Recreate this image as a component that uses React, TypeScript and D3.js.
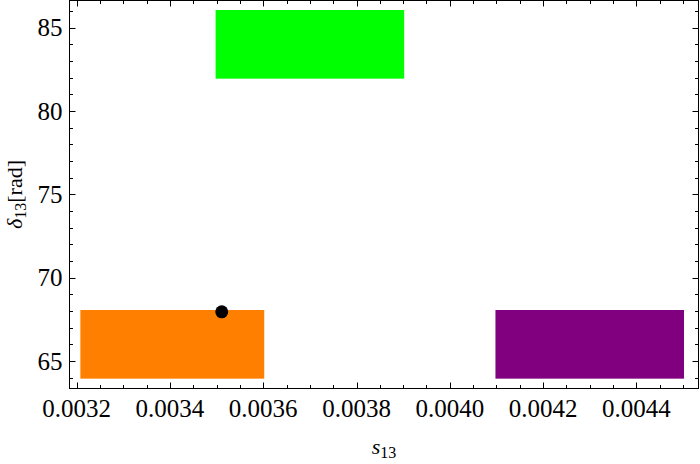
import React from "react";
import * as d3 from "d3";

// Regions (s13 range × δ13 range)
const regionColors = ["#FF8000", "#00FF00", "#800080"];
const sMin = [0.00321, 0.0035, 0.0041];
const sMax = [0.0036, 0.0039, 0.0045];
const dMin = [64.0, 82.0, 64.0];
const dMax = [68.0, 86.0, 68.0];

// Best-fit point
const pointS = [0.003511];
const pointD = [67.95];

// Ticks
const xMajorTicks = [0.0032, 0.0034, 0.0036, 0.0038, 0.004, 0.0042, 0.0044];
const xTickLabels = ["0.0032", "0.0034", "0.0036", "0.0038", "0.0040", "0.0042", "0.0044"];
const yMajorTicks = [65, 70, 75, 80, 85];
const yTickLabels = ["65", "70", "75", "80", "85"];

const W = 700;
const H = 464;
const left = 69.5;
const right = 698.5;
const top = 0.5;
const bottom = 388.5;

export default function App() {
  const x = d3.scaleLinear().domain([0.0031846, 0.0045332]).range([left, right]);
  const y = d3.scaleLinear().domain([63.35, 86.63]).range([bottom, top]);

  const xMinor: number[] = [];
  for (let i = 0; i <= 40; i++) {
    const v = 0.00315 + i * 0.00005;
    const px = x(v);
    if (px > left + 0.5 && px < right - 0.5) xMinor.push(v);
  }
  const yMinor: number[] = [];
  for (let v = 63; v <= 87; v++) {
    const py = y(v);
    if (py > top + 0.5 && py < bottom - 0.5) yMinor.push(v);
  }
  const isXMajor = (v: number) => xMajorTicks.some((t) => Math.abs(t - v) < 1e-8);
  const isYMajor = (v: number) => yMajorTicks.includes(v);

  const font = "'Liberation Serif', 'Times New Roman', serif";
  const pad = 1;

  return (
    <svg width={W} height={H} style={{ position: "absolute", left: 0, top: 0, background: "#fff" }}>
      {sMin.map((_, i) => (
        <rect
          key={i}
          x={x(sMin[i]) - pad}
          y={y(dMax[i]) - pad}
          width={x(sMax[i]) - x(sMin[i]) + 2 * pad}
          height={y(dMin[i]) - y(dMax[i]) + 2 * pad}
          fill={regionColors[i]}
        />
      ))}
      {pointS.map((s, i) => (
        <circle key={i} cx={x(s)} cy={y(pointD[i])} r={6.5} fill="#000" />
      ))}

      <rect x={left} y={top} width={right - left} height={bottom - top} fill="none" stroke="#000" strokeWidth={1} />

      {xMinor.map((v, i) => {
        const len = isXMajor(v) ? 6 : 3.5;
        const px = Math.round(x(v)) + 0.5;
        return (
          <g key={"xt" + i}>
            <line x1={px} x2={px} y1={bottom} y2={bottom - len} stroke="#000" />
            <line x1={px} x2={px} y1={top} y2={top + len} stroke="#000" />
          </g>
        );
      })}
      {yMinor.map((v, i) => {
        const len = isYMajor(v) ? 6 : 3.5;
        const py = Math.round(y(v)) + 0.5;
        return (
          <g key={"yt" + i}>
            <line x1={left} x2={left + len} y1={py} y2={py} stroke="#000" />
            <line x1={right} x2={right - len} y1={py} y2={py} stroke="#000" />
          </g>
        );
      })}

      {xMajorTicks.map((v, i) => (
        <text key={"xl" + i} x={x(v)} y={bottom + 28} textAnchor="middle" fontFamily={font} fontSize={25} fill="#000">
          {xTickLabels[i]}
        </text>
      ))}
      {yMajorTicks.map((v, i) => (
        <text key={"yl" + i} x={left - 7} y={y(v)} dy="0.34em" textAnchor="end" fontFamily={font} fontSize={25} fill="#000">
          {yTickLabels[i]}
        </text>
      ))}

      <text x={(left + right) / 2} y={454} textAnchor="middle" fontFamily={font} fontSize={22} fill="#000">
        <tspan fontStyle="italic">s</tspan>
        <tspan fontSize={16} dy={4}>13</tspan>
      </text>

      <text
        transform={`translate(22, ${(top + bottom) / 2}) rotate(-90)`}
        textAnchor="middle"
        fontFamily={font}
        fontSize={22}
        fill="#000"
      >
        <tspan fontStyle="italic">δ</tspan>
        <tspan fontSize={16} dy={4}>13</tspan>
        <tspan dy={-4}>[rad]</tspan>
      </text>
    </svg>
  );
}
